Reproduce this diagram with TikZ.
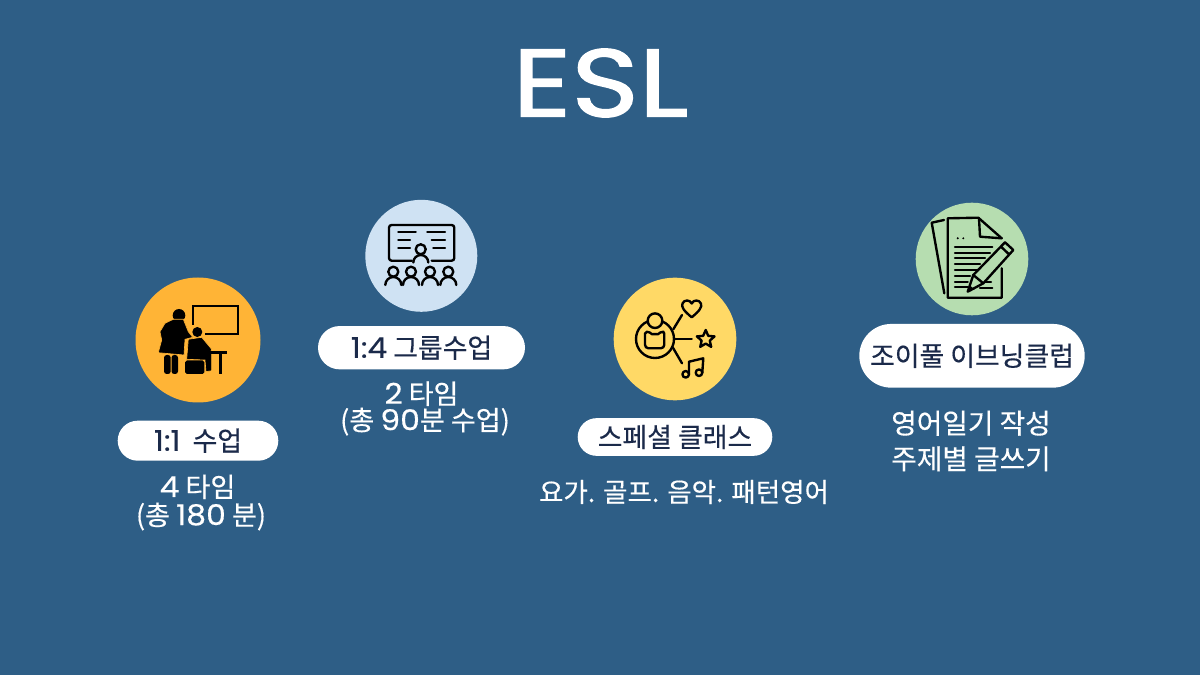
\documentclass[tikz,border=0pt]{standalone}
\usepackage{fontspec}
\usepackage{xcolor}
\usetikzlibrary{shapes.misc}
\setmainfont[FakeBold=0.35]{Noto Sans CJK KR}
\newfontfamily\latn[Scale=1.06,FakeStretch=1.1,FakeBold=0.35]{Poppins}
\newfontfamily\titlefont[FakeStretch=1.2,FakeBold=1.6]{Poppins}
\definecolor{bgblue}{HTML}{2E5E86}
\definecolor{inknavy}{HTML}{1B2A4A}
\definecolor{orangedisc}{HTML}{FFB436}
\definecolor{bluedisc}{HTML}{CFE2F3}
\definecolor{yellowdisc}{HTML}{FFD966}
\definecolor{greendisc}{HTML}{B6DDB0}
\begin{document}
\begin{tikzpicture}[x=0.02cm,y=0.02cm]
		\tikzstyle{every node}+=[inner sep=0pt]
		\tikzstyle{pill}=[rounded rectangle,fill=white,text=inknavy,font=\fontsize{15.3}{18}\selectfont]
		\tikzstyle{caption}=[text=white,align=center,font=\fontsize{15.4}{15}\selectfont]
		\tikzstyle{icon}=[black,line width=1.35pt,line cap=round,line join=round]
		\useasboundingbox (0,0) rectangle (1200,-675);
		\fill [bgblue] (0,0) rectangle (1200,-675);
		\node (title) [text=white,font=\fontsize{54.5}{60}\titlefont] at (600.5,-83) {ESL};
		% one to one
		\fill [orangedisc] (198,-340) circle (62.5);
		\draw [black,line width=1pt] (193.3,-325) -- (193.3,-306) -- (238,-306) -- (238,-333.7) -- (205,-333.7);
		\fill [black] (197.3,-332) circle (5);
		\filldraw [black,draw=orangedisc,line width=0.35pt] (188.3,-339.3) -- (201.7,-337.3) -- (211.7,-349.3) -- (210.7,-351.7) -- (211.7,-354.3) -- (211.7,-370.7) -- (206,-371.7) -- (205,-360) -- (186.7,-359.3) -- cycle;
		\fill [black] (210,-351) rectangle (226.7,-353.7);
		\fill [black] (219.3,-351) rectangle (222,-374);
		\fill [black,rounded corners=1pt] (185,-360.5) rectangle (204.3,-374);
		\fill [black] (179,-315.3) circle (6.3);
		\filldraw [black,draw=orangedisc,line width=0.35pt] (173.3,-319.3) -- (183.3,-319.3) -- (188.3,-331.7) -- (192.7,-337.3) -- (185,-339.3) -- (184,-355) -- (158.3,-352.7) -- (161.7,-340) -- (160,-331.7) -- (165,-323.3) -- cycle;
		\fill [black,rounded corners=1.5pt] (164,-355) rectangle (170.7,-374);
		\fill [black,rounded corners=1.5pt] (171.5,-355) rectangle (178,-374);
		\node (pillone) [pill,minimum width=160.6*0.02cm,minimum height=40*0.02cm] at (198,-440.7) {{\latn 1:1}\ \ 수업};
		\node (captionone) [caption] at (201,-502.5) {{\latn 4} 타임\hspace*{4pt}\null\\[1pt](총 {\latn 180} 분)};
		% group
		\fill [bluedisc] (421.3,-255.8) circle (56);
		\draw [icon,rounded corners=1.5pt] (411.7,-260.7) -- (389,-260.7) -- (389,-225) -- (454.3,-225) -- (454.3,-260.7) -- (431.7,-260.7);
		\draw [icon] (398.3,-232.3) -- (415.7,-232.3);
		\draw [icon] (398.3,-240) -- (410,-240);
		\draw [icon] (398.3,-248.3) -- (410,-248.3);
		\draw [icon] (427.3,-232.3) -- (445,-232.3);
		\draw [icon] (431.7,-240) -- (445,-240);
		\draw [icon] (433.3,-248.3) -- (445,-248.3);
		\draw [icon] (420.7,-249.3) circle (5);
		\draw [icon] (413.3,-262.5) arc (180:0:7.5);
		\draw [icon] (393.3,-271.7) circle (5);
		\draw [icon] (385.3,-285) arc (180:0:8);
		\draw [icon] (411,-271.7) circle (5);
		\draw [icon] (403,-285) arc (180:0:8);
		\draw [icon] (430,-271.7) circle (5);
		\draw [icon] (422,-285) arc (180:0:8);
		\draw [icon] (448.3,-271.7) circle (5);
		\draw [icon] (440.3,-285) arc (180:0:8);
		\node (pilltwo) [pill,minimum width=207*0.02cm,minimum height=43.3*0.02cm] at (421.5,-347.7) {{\latn 1:4} 그룹수업};
		\node (captiontwo) [caption] at (425,-408.5) {{\latn 2} 타임\hspace*{4pt}\null\\(총 {\latn 90}분 수업)};
		% special class
		\fill [yellowdisc] (675,-339) circle (61.3);
		\draw [icon] (655,-339) circle (19);
		\filldraw [icon,fill=yellowdisc] (655,-320.7) circle (7.3);
		\draw [icon,rounded corners=2pt] (645,-348.3) -- (645,-337) .. controls (645,-333) and (648,-331.7) .. (650,-331.7) .. controls (652,-334) and (658,-334) .. (660,-331.7) .. controls (662,-331.7) and (664.3,-333) .. (664.3,-337) -- (664.3,-348.3) -- cycle;
		\draw [icon] (673.3,-329.3) -- (682,-315);
		\draw [icon] (674,-339) -- (691.7,-339);
		\draw [icon] (672.7,-347.3) -- (682,-363.3);
		\draw [icon] (691.7,-317.3) .. controls (684,-311) and (681,-307) .. (682.5,-303.5) .. controls (684,-299.5) and (690,-299.5) .. (691.7,-303.5) .. controls (693.4,-299.5) and (699.4,-299.5) .. (700.9,-303.5) .. controls (702.4,-307) and (699.4,-311) .. (691.7,-317.3) -- cycle;
		\draw [icon,shift={(705.7,-339.3)}] (90:9.3) -- (126:4.3) -- (162:9.3) -- (198:4.3) -- (234:9.3) -- (270:4.3) -- (306:9.3) -- (342:4.3) -- (18:9.3) -- (54:4.3) -- cycle;
		\draw [icon] (685.7,-374.3) circle (3.3);
		\draw [icon] (699,-372.7) circle (3.3);
		\draw [icon] (689,-374.3) -- (689,-361.7) -- (703.3,-358.3) -- (702.3,-372.7);
		\node (pillthree) [pill,minimum width=194.6*0.02cm,minimum height=37.7*0.02cm] at (675,-437) {스페셜 클래스};
		\node (captionthree) [caption,font=\fontsize{15.1}{18}\selectfont] at (684,-492) {요가. 골프. 음악. 패턴영어};
		% evening club
		\fill [greendisc] (972,-259) circle (56.3);
		\draw [icon] (944,-220) -- (931.7,-222.7) -- (944.3,-293.3);
		\draw [icon] (1001.7,-268.3) -- (1001.7,-297.7) -- (947.7,-297.7) -- (947.7,-218.3) -- (978.3,-217.7) -- (1001.7,-238.3);
		\draw [icon] (979,-218.3) -- (980,-236.7) -- (1001.7,-238.3);
		\fill [black] (957.7,-238.3) circle (1.1);
		\fill [black] (963.3,-238.3) circle (1.1);
		\draw [icon] (955,-246.7) -- (992.3,-246.7);
		\draw [icon] (955,-252.7) -- (990,-252.7);
		\draw [icon] (955,-258.3) -- (985,-258.3);
		\draw [icon] (955,-264.3) -- (980,-264.3);
		\draw [icon] (955,-270) -- (976.7,-270);
		\draw [icon] (955,-276) -- (970,-276);
		\draw [icon] (955,-281.7) -- (967.7,-281.7);
		\draw [icon] (955,-287.3) -- (967.7,-287.3);
		\draw [icon] (985,-282.3) -- (991,-282.3);
		\draw [icon] (980,-287.7) -- (992.3,-287.7);
		\filldraw [icon,fill=greendisc] (967.7,-291.7) -- (973.3,-275) -- (1005,-242.3) -- (1013.3,-250) -- (983.3,-283.3) -- cycle;
		\draw [icon] (973.3,-275) -- (983.3,-283.3);
		\draw [icon] (1001,-246.7) -- (1009,-254.3);
		\fill [black] (967.7,-291.7) -- (969.7,-285.5) -- (974.5,-289.2) -- cycle;
		\node (pillfour) [pill,minimum width=225.4*0.02cm,minimum height=63.7*0.02cm] at (972,-355.8) {조이풀 이브닝클럽};
		\node (captionfour) [caption,font=\fontsize{15.8}{15.3}\selectfont] at (971,-441) {영어일기 작성\\[5pt]주제별 글쓰기};
	\end{tikzpicture}
\end{document}
